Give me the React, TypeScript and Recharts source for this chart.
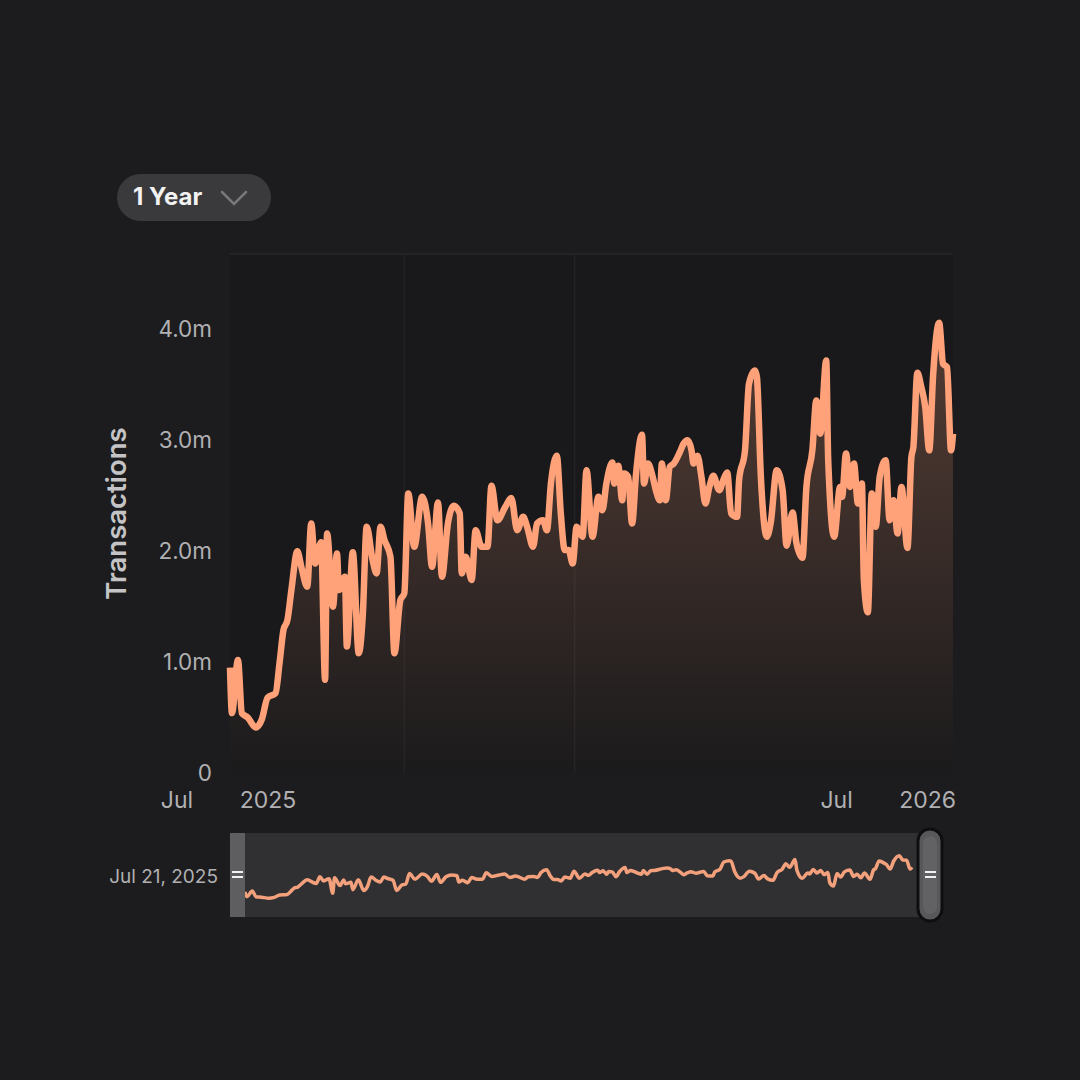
import {
  AreaChart,
  Area,
  XAxis,
  YAxis,
  CartesianGrid,
  ReferenceLine,
  Brush,
  LineChart,
  Line,
} from "recharts";

// days counted from the first sample (Jul 21, 2025)
const days = [
  0, 1, 4, 6, 9, 13, 16, 19, 23, 25, 27, 29, 31, 34, 36, 39, 41, 43, 46, 48,
  49, 52, 54, 55, 58, 59, 62, 65, 67, 69, 72, 74, 76, 78, 81, 83, 86, 88, 90, 93,
  97, 100, 102, 105, 107, 110, 113, 116, 117, 119, 122, 124, 127, 130, 132, 135,
  139, 142, 145, 148, 150, 153, 155, 158, 160, 162, 165, 167, 169, 171, 173, 175,
  178, 180, 183, 186, 188, 190, 193, 194, 196, 198, 199, 201, 203, 205, 208, 209,
  211, 213, 215, 217, 218, 220, 222, 224, 227, 229, 231, 233, 234, 236, 238, 240,
  242, 244, 247, 249, 251, 253, 256, 257, 260, 262, 265, 266, 268, 271, 273, 276,
  279, 281, 284, 286, 289, 291, 294, 296, 298, 301, 302, 305, 308, 309, 311, 313,
  315, 317, 319, 320, 322, 324, 326, 328, 331, 333, 335, 337, 339, 342, 344, 345,
  347, 349, 351, 353, 355, 358, 360, 362, 364, 365,
];

// transactions, in millions
const transactions = [
  0.95, 0.54, 1.02, 0.54, 0.5, 0.41, 0.48, 0.68, 0.72, 0.99, 1.29, 1.38, 1.65,
  2.0, 1.86, 1.68, 2.25, 1.89, 2.08, 0.84, 2.16, 1.5, 1.98, 1.65, 1.77, 1.14,
  1.99, 1.08, 1.41, 2.22, 1.92, 1.8, 2.22, 2.1, 1.95, 1.08, 1.56, 1.62, 2.52,
  2.04, 2.49, 2.25, 1.86, 2.44, 1.77, 2.25, 2.41, 2.34, 1.8, 1.95, 1.74, 2.19,
  2.04, 2.04, 2.59, 2.28, 2.4, 2.48, 2.19, 2.31, 2.22, 2.04, 2.25, 2.28, 2.19,
  2.61, 2.86, 2.34, 2.01, 2.01, 1.89, 2.22, 2.13, 2.73, 2.13, 2.49, 2.37, 2.61,
  2.8, 2.61, 2.77, 2.46, 2.7, 2.67, 2.25, 2.7, 3.05, 2.61, 2.79, 2.7, 2.55, 2.46,
  2.79, 2.46, 2.76, 2.79, 2.89, 2.97, 3.0, 2.91, 2.79, 2.86, 2.67, 2.43, 2.58,
  2.68, 2.55, 2.64, 2.71, 2.34, 2.31, 2.64, 2.91, 3.51, 3.63, 3.57, 2.67, 2.13,
  2.26, 2.73, 2.55, 2.05, 2.35, 2.07, 1.94, 2.58, 2.91, 3.36, 3.06, 3.72, 2.82,
  2.13, 2.58, 2.49, 2.88, 2.58, 2.79, 2.43, 2.61, 1.74, 1.45, 2.52, 2.22, 2.67,
  2.82, 2.28, 2.46, 2.16, 2.58, 2.03, 2.85, 2.94, 3.61, 3.48, 3.3, 2.91, 3.6,
  4.06, 3.69, 3.66, 2.91, 3.06,
];

const yTicks = [0, 1, 2, 3, 4];
const xTicks = [0, 333];
const tickMonths = ["Jul", "Jul"];
const tickYears = ["2025", "2026"];
const gridDays = [88, 174];

const data = days.map((day, i) => ({ day, value: transactions[i] }));

const LINE = "#ffa27a";
const LABEL = "#b0b0b2";
const FONT = "Inter, 'Noto Sans', sans-serif";
const BRUSH_X = 230;

const formatDate = (day: number) =>
  new Date(2025, 6, 21 + day).toLocaleDateString("en-US", {
    month: "short",
    day: "numeric",
    year: "numeric",
  });

const formatY = (v: number) => (v === 0 ? "0" : `${v.toFixed(1)}m`);

function DateTick(props: any) {
  const { x, y, index } = props;
  return (
    <g fill={LABEL} fontSize={23} fontFamily={FONT}>
      <text x={x - 53} y={y + 33} textAnchor="middle">
        {tickMonths[index]}
      </text>
      <text x={x + 38} y={y + 33} textAnchor="middle">
        {tickYears[index]}
      </text>
    </g>
  );
}

function Handle(props: any) {
  const { x, y, width, height } = props;
  const mid = y + height / 2;
  if (x <= BRUSH_X + 1) {
    return (
      <g>
        <rect x={x} y={y} width={15} height={height} fill="#5e5e60" />
        <rect x={x + 2} y={mid - 4} width={11} height={2} fill="#f2f2f2" />
        <rect x={x + 2} y={mid + 1} width={11} height={2} fill="#f2f2f2" />
      </g>
    );
  }
  return (
    <g>
      <rect
        x={x}
        y={y - 4}
        width={width}
        height={height + 8}
        rx={12}
        fill="#58585a"
        stroke="#0e0e10"
        strokeWidth={3}
      />
      <rect x={x + 5} y={y + 3} width={width - 10} height={height - 6} rx={8} fill="#626264" />
      <rect x={x + 7} y={mid - 4} width={11} height={2} fill="#f2f2f2" />
      <rect x={x + 7} y={mid + 1} width={11} height={2} fill="#f2f2f2" />
    </g>
  );
}

export default function App() {
  return (
    <div
      style={{
        position: "absolute",
        left: 0,
        top: 0,
        width: 1080,
        height: 1080,
        background: "#1c1c1e",
        fontFamily: FONT,
        overflow: "hidden",
      }}
    >
      <div
        style={{
          position: "absolute",
          left: 117,
          top: 174,
          width: 154,
          height: 47,
          borderRadius: 24,
          background: "#3a3a3c",
        }}
      >
        <span
          style={{
            position: "absolute",
            left: 16,
            top: 9,
            fontSize: 24,
            fontWeight: 700,
            color: "#f2f2f2",
            lineHeight: "28px",
          }}
        >
          1 Year
        </span>
        <svg
          width={30}
          height={20}
          style={{ position: "absolute", left: 102, top: 14 }}
        >
          <polyline
            points="3,4 15,16 27,4"
            fill="none"
            stroke="#78787a"
            strokeWidth={2.5}
            strokeLinecap="round"
          />
        </svg>
      </div>

      <div
        style={{
          position: "absolute",
          right: 1080 - 218,
          top: 864,
          fontSize: 19,
          color: LABEL,
          lineHeight: "26px",
        }}
      >
        {formatDate(days[0])}
      </div>

      <AreaChart
        width={1080}
        height={1000}
        data={data}
        margin={{ top: 254, right: 127, left: 100, bottom: 103 }}
        style={{ position: "absolute", left: 0, top: 0 }}
      >
        <defs>
          <linearGradient id="txFill" x1="0" y1="0" x2="0" y2="1">
            <stop offset="0%" stopColor={LINE} stopOpacity={0.42} />
            <stop offset="40%" stopColor={LINE} stopOpacity={0.27} />
            <stop offset="75%" stopColor={LINE} stopOpacity={0.12} />
            <stop offset="100%" stopColor={LINE} stopOpacity={0.02} />
          </linearGradient>
        </defs>
        <CartesianGrid
          fill="#19191b"
          horizontal={false}
          verticalValues={gridDays}
          stroke="#222224"
          strokeWidth={1.5}
        />
        <ReferenceLine y={4.68} stroke="#232325" strokeWidth={2} />
        <XAxis
          dataKey="day"
          type="number"
          domain={[0, 365]}
          ticks={xTicks}
          interval={0}
          tick={<DateTick />}
          tickLine={false}
          axisLine={false}
          tickSize={0}
          height={40}
        />
        <YAxis
          domain={[0, 4.68]}
          ticks={yTicks}
          tickFormatter={formatY}
          tick={{ fill: LABEL, fontSize: 22.5, fontFamily: FONT }}
          tickLine={false}
          axisLine={false}
          tickSize={0}
          tickMargin={18}
          width={130}
          label={{
            value: "Transactions",
            angle: -90,
            position: "insideLeft",
            offset: 16,
            style: {
              textAnchor: "middle",
              fill: "#c4c4c6",
              fontSize: 27.5,
              fontWeight: 600,
              fontFamily: FONT,
            },
          }}
        />
        <Area
          type="monotone"
          dataKey="value"
          stroke={LINE}
          strokeWidth={6.5}
          strokeLinejoin="round"
          fill="url(#txFill)"
          dot={false}
          activeDot={false}
          isAnimationActive={false}
        />
        <Brush
          dataKey="day"
          x={BRUSH_X}
          y={833}
          width={712}
          height={84}
          travellerWidth={24}
          fill="#303032"
          stroke="transparent"
          padding={{ top: 0, right: 30, bottom: 14, left: 15 }}
          traveller={(p: any) => <Handle {...p} />}
          tickFormatter={() => ""}
        >
          <LineChart data={data}>
            <XAxis
              xAxisId="mini"
              dataKey="day"
              type="number"
              domain={[0, 365]}
              hide
            />
            <YAxis yAxisId="mini" domain={[0, 6]} hide />
            <Line
              xAxisId="mini"
              yAxisId="mini"
              type="monotone"
              dataKey="value"
              stroke="#f3a07c"
              strokeWidth={3.5}
              dot={false}
              isAnimationActive={false}
            />
          </LineChart>
        </Brush>
      </AreaChart>
    </div>
  );
}
